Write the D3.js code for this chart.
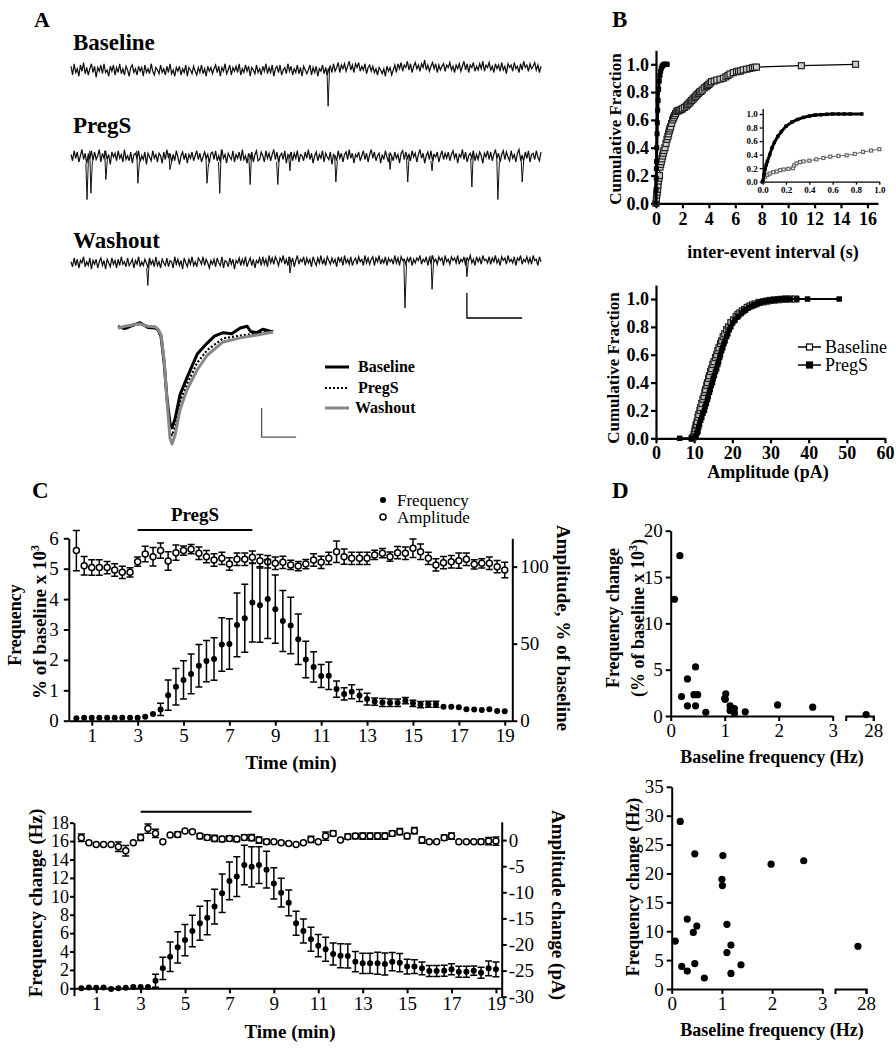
<!DOCTYPE html>
<html><head><meta charset="utf-8">
<script src="https://cdn.jsdelivr.net/npm/d3@7"></script>
<style>body{margin:0;background:#fff} svg{display:block}</style>
</head><body><svg id="c" width="896" height="1050"></svg>
<script>
// ---------------- DATA ----------------
// Panel A: raw traces (pA, estimated), events (s, pA)
const traceLabels = ["Baseline", "PregS", "Washout"];
const baseTrace = [3,-4,5,-2,1,-5,4,-1,6,-3,2,-4,1,5,-2,3,-6,2,-1,4,-3,5,-2,0,-5,3,-1,4,-4,2,
 -2,5,-3,1,-4,3,0,-5,2,4,-2,1,-4,3,-1,2,-5,4,-2,1,-3,5,-1,-4,2,0,-3,4,-2,1,
 -4,3,-2,5,-3,0,-5,2,-1,3,-4,1,-2,4,-5,2,0,-3,3,-1,-4,2,-2,4,-3,1,-5,3,-1,2,
 -3,1,4,-2,3,-5,2,-1,5,-3,0,4,-4,2,-1,3,-2,5,-4,1,-2,4,-1,3,-5,2,0,-3,4,-2,
 1,-4,3,-1,5,-3,2,-2,4,-5,1,3,-2,4,-4,0,2,-3,5,-1,3,-4,1,-2,4,-3,2,-5,3,0,
 -3,0,4,-4,2,-2,3,-5,1,-1,4,-3,2,-4,1,3,-2,5,-1,2,6,-2,4,1,5,-1,3,7,0,4,
 -2,5,2,6,-1,3,0,5,-3,2,4,-1,3,-2,1,-4,2,0,-3,1,-5,3,-1,2,-4,0,4,-2,5,1,
 6,-1,4,2,7,0,5,-2,3,6,1,4,-1,5,2,8,0,4,-1,3,6,1,5,-2,4,0,3,5,-1,4,
 2,6,0,3,-2,4,1,5,-1,3,7,0,5,-2,4,2,6,-1,3,0,5,1,7,-1,4,2,6,0,3,-2,
 5,1,4,-1,6,0,3,-3,5,2,4,-1,6,1,3,-2,5,0,7,2,4,-1,5,1,3,6,0,4,-2,3];
const pregTrace = [2,-3,5,-1,4,-4,1,6,-2,3,-5,2,-1,5,-3,4,-2,1,6,-4,3,-1,5,-2,2,-6,4,0,3,-3,
 5,-1,2,-4,6,-2,1,-3,4,-5,2,3,-1,5,-4,1,-2,4,-6,3,0,-3,5,-1,2,-4,3,1,-5,4,
 -2,6,-1,3,-4,2,-3,5,0,-6,1,4,-2,3,-5,2,-1,4,-3,1,5,-2,3,-4,0,4,-1,2,-5,3,
 4,-2,5,-3,1,-4,6,-1,2,-5,3,0,-2,5,-4,2,-1,4,-3,6,-2,1,-5,3,-1,4,-4,2,5,-3,
 -2,4,1,-4,5,-1,3,-3,2,6,-2,4,-4,1,3,-2,5,-5,2,0,4,-3,3,-1,5,-4,2,1,-3,4,
 -1,6,-2,3,-5,1,4,-3,2,-1,5,-4,3,0,-2,4,-6,2,1,-3,5,-1,3,-4,2,4,-2,6,-1,3,
 -5,2,0,4,-3,1,5,-2,3,-4,2,6,-1,4,-3,1,3,-5,2,-2,5,0,-4,3,1,-3,4,-1,2,-5,
 3,5,-2,4,-1,2,-3,5,0,3,-4,2,6,-1,3,-5,1,4,-2,5,-3,2,0,4,-4,1,5,-2,3,-1,
 4,-3,2,5,-1,3,-5,2,0,6,-2,4,-4,1,3,-1,5,-3,2,-2,4,1,-5,3,0,5,-2,4,-3,2,
 6,-1,3,-4,2,5,-2,4,0,-3,5,-1,2,-4,3,6,-2,1,-3,4,-1,5,-4,2,3,-2,5,0,-3,4];
const washTrace = [1,-3,4,-2,3,-4,2,0,5,-3,1,-2,4,-5,2,-1,3,-4,1,4,-2,2,-5,3,0,-3,4,-1,2,-4,
 3,-2,5,-1,1,-3,4,-2,0,3,-4,2,-1,5,-3,1,-2,3,0,-4,4,-1,2,-3,5,-2,1,-4,3,0,
 -2,4,-3,2,1,-4,5,-1,3,-2,2,-5,4,0,-3,3,-1,5,-2,1,-3,4,2,-1,5,-2,3,0,-4,2,
 -1,3,-3,4,0,-2,5,-4,2,1,-3,4,-1,3,-5,2,0,4,-2,3,-1,5,-3,1,4,-2,3,-4,2,0,
 4,-2,5,-1,3,-3,6,0,4,-1,5,2,-2,4,1,6,-1,3,-2,5,0,4,-3,2,6,-1,3,1,5,-2,
 4,0,3,-3,5,1,-2,4,0,6,-1,3,-2,5,2,-1,4,0,3,-3,5,1,4,-2,6,0,3,-1,5,-2,
 2,4,-1,5,1,3,-2,6,0,4,-1,3,5,-2,4,1,6,-1,3,0,5,-2,4,1,3,-1,6,0,4,-2,
 5,2,3,-1,4,1,5,-2,3,0,4,2,6,-1,3,1,5,-2,4,0,6,1,3,-1,5,2,4,-2,6,1,
 3,-1,5,2,4,0,6,-1,3,1,5,-2,4,2,6,0,3,-2,5,1,4,-1,6,2,3,0,5,-1,4,1,
 6,0,3,-2,5,2,4,-1,6,1,3,0,5,-2,4,2,6,-1,3,1,5,0,4,-1,6,2,3,-2,5,1];
const traceDuration = 8.5; // s
const baseEventT = [4.65];
const baseEventA = [-29];
const pregEventT = [0.29,0.36,0.63,1.21,1.79,2.46,2.69,3.24,3.74,3.96,4.79,5.77,6.09,6.53,7.25,7.72,8.16];
const pregEventA = [-34,-29,-18,-21,-10,-21,-29,-22,-22,-11,-20,-10,-20,-11,-24,-34,-20];
const washEventT = [1.39,3.96,6.04,6.53,7.16];
const washEventA = [-18,-8,-36,-21,-11];
const traceScaleBar = {t: 7.16, dt: 1, a: -24, da: 20};

// Panel A: averaged events (ms, pA)
const avgBaseT = [0,2,4.1,6.4,8.7,10.8,11.6,12.5,13.4,14.2,15.1,15.7,16.6,18,20,23,25.9,28,30.5,33,35.5,37.5,38.5,40.4,42,45];
const avgBaseA = [0.2,-0.1,0.4,0.9,0.1,0,-0.3,-1.5,-6,-12,-16.5,-17.2,-15.6,-11.5,-8.6,-4.5,-2.6,-1.4,-0.8,-1,0,0.3,-0.6,-0.8,-0.2,-0.7];
const avgPregT = [0,2,4.1,6.4,8.7,10.8,11.6,12.5,13.4,14.2,15.1,15.7,16.6,18,20,23,25.9,30.5,35.5,40.4,45];
const avgPregA = [0.3,0,0.5,0.8,0.2,0.1,-0.2,-1.3,-5.8,-12.3,-17.8,-18.5,-17,-12.8,-9.7,-6,-3.8,-1.8,-1.3,-0.9,-0.5];
const avgWashT = [0,2,4.1,6.4,8.7,10.8,11.6,12.5,13.4,14.2,15.1,15.7,16.6,18,20,23,25.9,30.5,35.5,40.4,45];
const avgWashA = [0,0.3,0.5,0.7,0.3,0.2,-0.2,-1.2,-5.5,-12.4,-19,-20,-18.4,-14.1,-10.7,-7.2,-4.7,-2.4,-1.7,-1.2,-0.7];
const avgScaleBar = {t: 41.7, dt: 10, a: -13.8, da: 5};

// Panel B: cumulative distributions
const ieiBaseX = [0,0.03,0.06,0.09,0.12,0.15,0.18,0.22,0.26,0.3,0.35,0.4,0.45,0.5,0.55,0.6,0.68,0.76,0.83,0.9,0.95,1.0,1.05,1.1,1.18,1.26,1.33,1.4,1.48,1.57,1.65,1.72,1.8,1.9,2.0,2.15,2.3,2.4,2.5,2.6,2.7,2.8,2.9,3.0,3.1,3.2,3.3,3.4,3.5,3.65,3.8,3.9,4.0,4.1,4.2,4.4,4.6,4.85,5.1,5.3,5.45,5.6,5.85,6.1,6.25,6.4,6.6,6.85,7.1,7.3,7.45,7.6,11.0,15.1];
const ieiBaseY = [0,0.03,0.06,0.08,0.1,0.13,0.16,0.18,0.2,0.26,0.28,0.3,0.32,0.34,0.36,0.38,0.4,0.43,0.46,0.48,0.5,0.52,0.535,0.55,0.575,0.6,0.615,0.63,0.645,0.66,0.665,0.668,0.67,0.675,0.68,0.69,0.7,0.71,0.72,0.73,0.74,0.75,0.76,0.77,0.78,0.79,0.8,0.805,0.815,0.83,0.84,0.848,0.855,0.865,0.875,0.88,0.887,0.893,0.9,0.91,0.92,0.93,0.94,0.947,0.95,0.952,0.96,0.965,0.97,0.975,0.978,0.98,0.99,1.0];
const ieiPregX = [0,0.01,0.02,0.03,0.04,0.06,0.08,0.1,0.13,0.16,0.2,0.25,0.3,0.35,0.4,0.45,0.5,0.55,0.6,0.65,0.7,0.75,0.85];
const ieiPregY = [0,0.1,0.18,0.25,0.3,0.4,0.5,0.58,0.67,0.74,0.82,0.88,0.92,0.95,0.97,0.985,0.99,0.995,1,1,1,1,1];
const insetBaseX = [0,0.02,0.04,0.06,0.09,0.12,0.15,0.18,0.22,0.26,0.27,0.29,0.32,0.35,0.4,0.46,0.52,0.58,0.65,0.72,0.79,0.86,0.93,1.0];
const insetBaseY = [0,0.07,0.1,0.12,0.14,0.15,0.17,0.18,0.19,0.2,0.24,0.27,0.29,0.3,0.31,0.33,0.35,0.37,0.38,0.39,0.41,0.44,0.46,0.48];
const ampBaseX = [9.5,9.8,10.0,10.2,10.3,10.5,10.6,10.8,11.0,11.2,11.5,11.7,12.0,12.3,12.6,12.8,13.0,13.3,13.5,13.8,14.0,14.3,14.6,14.9,15.2,15.6,15.9,16.2,16.5,16.9,17.2,17.6,18.0,18.5,19.0,19.6,20.3,21.0,21.5,22.0,22.6,23.2,23.9,24.6,25.3,26.0,27,28.1,29,30,31,32,33,34,35,36.5];
const ampBaseY = [0,0.01,0.03,0.05,0.07,0.09,0.1,0.12,0.15,0.17,0.2,0.22,0.25,0.28,0.3,0.33,0.35,0.38,0.4,0.43,0.45,0.48,0.5,0.53,0.55,0.58,0.6,0.63,0.65,0.68,0.7,0.73,0.75,0.78,0.8,0.83,0.85,0.875,0.89,0.9,0.915,0.925,0.94,0.95,0.958,0.965,0.975,0.98,0.985,0.99,0.993,0.995,0.998,1.0,1.0,1.0];
const ampPregX = [6.2,9.3,10.3,10.5,10.8,11.0,11.2,11.4,11.7,12.0,12.3,12.7,12.9,13.2,13.5,13.7,14.0,14.2,14.5,14.8,15.0,15.3,15.6,15.9,16.2,16.4,16.7,16.9,17.2,17.5,17.8,18.1,18.5,18.8,19.2,19.6,20.1,20.7,21.5,22.4,23.0,23.5,24.3,25.1,25.8,26.5,27.1,27.7,28.6,29.5,30.3,31,32,33,34,35,36.9,39.7,48];
const ampPregY = [0,0,0.01,0.02,0.04,0.05,0.08,0.1,0.13,0.15,0.18,0.2,0.23,0.25,0.28,0.3,0.33,0.35,0.38,0.4,0.43,0.45,0.48,0.5,0.53,0.55,0.58,0.6,0.63,0.65,0.68,0.7,0.73,0.75,0.78,0.8,0.83,0.85,0.875,0.9,0.915,0.925,0.94,0.95,0.958,0.965,0.975,0.98,0.985,0.99,0.993,0.995,0.998,1.0,1.0,1.0,1.0,1.0,1.0];
const cdfLegend = ["Baseline", "PregS"];

// Panel C: time course (min)
const timeBins = [0.33,0.67,1,1.33,1.67,2,2.33,2.67,3,3.33,3.67,4,4.33,4.67,5,5.33,5.67,6,6.33,6.67,7,7.33,7.67,8,8.33,8.67,9,9.33,9.67,10,10.33,10.67,11,11.33,11.67,12,12.33,12.67,13,13.33,13.67,14,14.33,14.67,15,15.33,15.67,16,16.33,16.67,17,17.33,17.67,18,18.33,18.67,19];
const timeTicks = [1,3,5,7,9,11,13,15,17,19];
const pregsPeriod = [3, 8];
const freqPct = [0.08,0.1,0.1,0.1,0.1,0.1,0.1,0.1,0.1,0.13,0.22,0.37,0.84,1.12,1.34,1.54,1.81,1.96,2.03,2.51,2.52,3.15,3.37,3.89,3.8,4.0,3.67,3.28,3.13,2.68,2.01,1.77,1.47,1.48,1.04,0.88,0.95,0.83,0.71,0.63,0.6,0.59,0.59,0.66,0.57,0.53,0.54,0.54,0.46,0.46,0.44,0.38,0.37,0.35,0.38,0.32,0.31];
const freqPctErr = [0.02,0.02,0.02,0.02,0.02,0.02,0.02,0.02,0.02,0.02,0.02,0.2,0.5,0.6,0.63,0.65,0.7,0.68,0.7,0.88,0.83,1.05,1.12,1.3,1.22,1.3,1.12,1.0,0.93,0.83,0.6,0.5,0.38,0.45,0.27,0.2,0.23,0.2,0.19,0.12,0.13,0.12,0.12,0.1,0.1,0.1,0.1,0.1,0.08,0.08,0.07,0.04,0.06,0.03,0.03,0.03,0.03];
const ampPct = [110.4,100.6,99.4,99.4,99.4,97.8,96.3,96.3,103.2,108.2,106.5,110.4,103.7,109.1,110.4,111.3,108.7,106.5,104.3,105.4,101.7,104.8,104.8,106.1,103.9,103.2,102.2,102.8,101.1,100.4,101.7,104.3,102.8,105.4,109.7,106.5,105.4,105.4,105.4,107.6,108.7,106.5,109.1,108.7,111.9,109.7,105.4,101.1,102.6,103.2,103.9,104.8,101.5,102.2,102.2,100,97.8];
const ampPctErr = [13,6,5,5,4,4,4,3,3,5,6,5,6,5,3,3,4,4,4,4,4,4,4,4,4,4,4,4,3,3,3,4,4,4,7,5,4,4,4,3,3,3,4,4,6,5,4,4,4,4,5,4,3,3,4,4,5];
const freqHz = [0,0.1,0.07,0.1,-0.07,0,0.07,0.15,0.15,0.15,0.83,2.17,3.44,4.46,5.25,6.23,7.07,7.68,8.88,10.33,11.67,12.14,13.4,13.2,13.4,12.9,11.4,10.4,9.3,7.07,6.23,5.33,4.64,4.24,3.73,3.55,3.51,2.9,2.72,2.72,2.72,2.64,2.9,2.79,2.36,2.36,2.17,1.88,1.88,1.92,2.07,1.81,1.81,1.92,1.7,2.17,2.07];
const freqHzErr = [0.05,0.05,0.05,0.05,0.05,0.05,0.05,0.05,0.05,0.05,0.7,1.2,1.6,1.7,1.7,1.7,1.85,1.85,1.9,2.1,2.05,2.15,2.15,2.2,2.0,2.0,1.7,1.55,1.4,1.3,1.3,1.3,1.2,1.3,1.2,1.3,1.3,1.1,1.1,1.1,1.2,1.2,1.0,1.0,0.8,0.75,0.7,0.6,0.6,0.6,0.6,0.6,0.6,0.5,0.6,0.8,0.8];
const ampPA = [0.45,-0.5,-0.83,-0.83,-0.83,-1.28,-2.04,-0.5,0.5,2.2,1.28,-0.32,0.96,1.08,1.72,1.6,0.77,0.5,0.32,0.19,0.32,0.19,0.5,0.45,0,-0.32,-0.32,-0.5,-0.64,-0.83,-0.5,0.13,-0.32,0.77,1.28,0,0.64,0.77,0.77,0.77,0.77,0.77,1.28,1.6,0.77,1.79,0,-0.32,-0.32,0.45,0.77,-0.32,-0.32,-0.32,-0.32,-0.19,-0.19];
const ampPAErr = [0.7,0.4,0.4,0.4,0.4,0.9,1.0,0.4,0.6,0.9,0.8,0.4,0.4,0.5,0.4,0.4,0.5,0.5,0.6,0.5,0.5,0.5,0.5,0.6,0.6,0.5,0.4,0.4,0.4,0.3,0.4,0.6,0.4,0.8,0.5,0.4,0.5,0.5,0.6,0.6,0.6,0.6,0.5,0.6,0.5,0.6,0.6,0.4,0.4,0.5,0.6,0.3,0.3,0.4,0.5,0.7,0.8];
const tcLegend = ["Frequency", "Amplitude"];

// Panel D: per-cell scatter
const cellBaseHz = [0.07,0.17,0.2,0.31,0.31,0.43,0.46,0.46,0.5,0.65,1.0,1.01,1.02,1.1,1.1,1.18,1.18,1.38,1.98,2.63,27.87];
const cellChangePct = [12.6,17.3,2.1,1.1,4.0,2.3,5.3,1.1,2.3,0.4,1.9,1.8,2.4,1.1,0.6,0.8,0.3,0.45,1.2,0.95,0.15];
const cellChangeHz = [8.3,29.0,3.9,3.1,12.1,9.8,23.4,4.4,10.9,1.9,19.0,17.9,23.1,11.2,6.3,7.6,2.7,4.2,21.6,22.2,7.4];

// ---------------- DRAWING ----------------
const FONT = '"Liberation Serif","Times New Roman",Times,serif';
const svg = d3.select("#c");

function txt(x, y, s, o = {}) {
  const t = svg.append("text").attr("x", x).attr("y", y)
    .attr("font-family", FONT).attr("font-size", o.size || 18)
    .attr("font-weight", o.bold ? "bold" : "normal")
    .attr("text-anchor", o.anchor || "start").attr("fill", "#000");
  if (s !== null) t.text(s);
  if (o.rotate) t.attr("transform", `rotate(${o.rotate},${x},${y})`);
  return t;
}
function drawAxis(axis, tx, ty, fs, bold, sw) {
  const g = svg.append("g").attr("transform", `translate(${tx},${ty})`).call(axis);
  g.attr("font-family", FONT).attr("font-size", fs).attr("font-weight", bold ? "bold" : "normal");
  g.select(".domain").attr("stroke", "#000").attr("stroke-width", sw || 2);
  g.selectAll(".tick line").attr("stroke", "#000").attr("stroke-width", sw || 2);
  g.selectAll(".tick text").attr("fill", "#000");
  return g;
}
function errBars(xs, ys, es, x, y, cap) {
  const g = svg.append("g");
  xs.forEach((t, i) => {
    const y1 = y(ys[i] - es[i]), y2 = y(ys[i] + es[i]);
    if (Math.abs(y1 - y2) < 5) return;
    const cx = x(t);
    g.append("path").attr("d", `M${cx},${y1}V${y2}M${cx - cap},${y1}H${cx + cap}M${cx - cap},${y2}H${cx + cap}`)
      .attr("stroke", "#000").attr("stroke-width", 1.5).attr("fill", "none");
  });
}
function dots(xs, ys, x, y, r, open) {
  svg.append("g").selectAll("circle").data(xs).join("circle")
    .attr("cx", d => x(d)).attr("cy", (d, i) => y(ys[i])).attr("r", r)
    .attr("fill", open ? "#fff" : "#000").attr("stroke", "#000").attr("stroke-width", open ? 1.5 : 0);
}
function squares(xs, ys, x, y, s, open, color, fillOpen) {
  const c = color || "#000";
  svg.append("g").selectAll("rect").data(xs).join("rect")
    .attr("x", d => x(d) - s / 2).attr("y", (d, i) => y(ys[i]) - s / 2).attr("width", s).attr("height", s)
    .attr("fill", open ? (fillOpen || "#fff") : c).attr("stroke", c).attr("stroke-width", open ? 1.2 : 0);
}
function polyline(xs, ys, x, y, w, color, dash) {
  const p = svg.append("path")
    .attr("d", d3.line().x(d => x(d)).y((d, i) => y(ys[i]))(xs))
    .attr("fill", "none").attr("stroke", color || "#000").attr("stroke-width", w)
    .attr("stroke-linejoin", "round");
  if (dash) p.attr("stroke-dasharray", dash);
  return p;
}

// ---------- Panel letters ----------
txt(34, 27, "A", {size: 22, bold: true});
txt(612, 27, "B", {size: 23, bold: true});
txt(32, 498, "C", {size: 23, bold: true});
txt(612, 498, "D", {size: 23, bold: true});

// ---------- Panel A traces ----------
const xT = d3.scaleLinear().domain([0, traceDuration]).range([71, 541]);
const traceCenters = [70, 157, 263];
const labelY = [50, 133, 248];
const traces = [baseTrace, pregTrace, washTrace];
const evT = [baseEventT, pregEventT, washEventT];
const evA = [baseEventA, pregEventA, washEventA];
const yTraces = traceCenters.map(c => d3.scaleLinear().domain([-40, 10]).range([c + 50, c - 12.5]));
traces.forEach((arr, k) => {
  const yk = yTraces[k];
  const n = arr.length;
  const tOf = i => i * traceDuration / (n - 1);
  txt(73, labelY[k], traceLabels[k], {size: 23, bold: true});
  svg.append("path").attr("d", d3.line().x((d, i) => xT(tOf(i))).y(d => yk(d))(arr))
    .attr("fill", "none").attr("stroke", "#111").attr("stroke-width", 1.25);
  evT[k].forEach((t, j) => {
    const i = Math.round(t / traceDuration * (n - 1));
    const cx = xT(t);
    svg.append("path").attr("d", `M${cx - 1.2},${yk(arr[i])}L${cx},${yk(evA[k][j])}L${cx + 1.5},${yk(arr[Math.min(i + 1, n - 1)])}`)
      .attr("fill", "none").attr("stroke", "#111").attr("stroke-width", 1);
  });
});
{
  const yk = yTraces[2], sb = traceScaleBar;
  svg.append("path").attr("d", `M${xT(sb.t)},${yk(sb.a)}V${yk(sb.a - sb.da)}H${xT(sb.t + sb.dt)}`)
    .attr("fill", "none").attr("stroke", "#000").attr("stroke-width", 1.3);
}

// ---------- Panel A averaged events ----------
const xA = d3.scaleLinear().domain([0, 45]).range([118, 273]);
const yA = d3.scaleLinear().domain([-20, 0]).range([444, 328]);
polyline(avgBaseT, avgBaseA, xA, yA, 3, "#000");
polyline(avgPregT, avgPregA, xA, yA, 2.2, "#000", "2,2");
polyline(avgWashT, avgWashA, xA, yA, 3, "#888");
svg.append("path").attr("d", `M${xA(avgScaleBar.t)},${yA(avgScaleBar.a)}V${yA(avgScaleBar.a - avgScaleBar.da)}H${xA(avgScaleBar.t + avgScaleBar.dt)}`)
  .attr("fill", "none").attr("stroke", "#555").attr("stroke-width", 1.3);
const legY = [367, 388, 408];
const legStyle = [{c: "#000", w: 3, d: null}, {c: "#000", w: 2.2, d: "2,2"}, {c: "#888", w: 3, d: null}];
traceLabels.forEach((l, i) => {
  const p = svg.append("path").attr("d", `M325,${legY[i]}H349`).attr("stroke", legStyle[i].c).attr("stroke-width", legStyle[i].w);
  if (legStyle[i].d) p.attr("stroke-dasharray", legStyle[i].d);
  txt(i === 2 ? 355 : 358, legY[i] + 5, l, {size: 16, bold: true});
});

// ---------- Panel B top ----------
const xB1 = d3.scaleLinear().domain([0, 16.8]).range([656, 878]);
const yB1 = d3.scaleLinear().domain([0, 1.1]).range([203.3, 50.4]);
drawAxis(d3.axisBottom(xB1).tickValues(d3.range(0, 17, 2)).tickFormat(d3.format("d")).tickSize(5).tickSizeOuter(0).tickPadding(4), 0, yB1(0), 18, true, 2.2);
drawAxis(d3.axisLeft(yB1).tickValues([0, 0.2, 0.4, 0.6, 0.8, 1.0]).tickFormat(d3.format(".1f")).tickSize(5).tickSizeOuter(0).tickPadding(2), xB1(0), 0, 18, true, 2.2);
polyline(ieiBaseX, ieiBaseY, xB1, yB1, 1.2, "#000");
squares(ieiBaseX, ieiBaseY, xB1, yB1, 6, true, "#222", "#ccc");
polyline(ieiPregX, ieiPregY, xB1, yB1, 3, "#000");
squares(ieiPregX, ieiPregY, xB1, yB1, 5, false, "#000");
txt(621, 129, "Cumulative Fraction", {size: 17, bold: true, anchor: "middle", rotate: -90});
txt(773, 258, "inter-event interval (s)", {size: 18, bold: true, anchor: "middle"});
// inset
const xIn = d3.scaleLinear().domain([0, 1]).range([762.7, 879.3]);
const yIn = d3.scaleLinear().domain([0, 1.08]).range([181.7, 108.6]);
drawAxis(d3.axisBottom(xIn).tickValues([0, 0.2, 0.4, 0.6, 0.8, 1.0]).tickFormat(d3.format(".1f")).tickSize(3).tickSizeOuter(0).tickPadding(2), 0, yIn(0), 9, true, 1.3);
drawAxis(d3.axisLeft(yIn).tickValues([0, 0.2, 0.4, 0.6, 0.8, 1.0]).tickFormat(d3.format(".1f")).tickSize(3).tickSizeOuter(0).tickPadding(2), xIn(0), 0, 9, true, 1.3);
polyline(insetBaseX, insetBaseY, xIn, yIn, 1, "#666");
squares(insetBaseX, insetBaseY, xIn, yIn, 3, true, "#666");
polyline(ieiPregX, ieiPregY, xIn, yIn, 3, "#000");
squares(ieiPregX, ieiPregY, xIn, yIn, 3.5, false, "#000");

// ---------- Panel B bottom ----------
const xB2 = d3.scaleLinear().domain([0, 60]).range([656, 885]);
const yB2 = d3.scaleLinear().domain([0, 1.1]).range([438.3, 285.1]);
drawAxis(d3.axisBottom(xB2).tickValues(d3.range(0, 61, 10)).tickFormat(d3.format("d")).tickSize(5).tickSizeOuter(0).tickPadding(3), 0, yB2(0), 18, true, 2.2);
drawAxis(d3.axisLeft(yB2).tickValues([0, 0.2, 0.4, 0.6, 0.8, 1.0]).tickFormat(d3.format(".1f")).tickSize(5).tickSizeOuter(0).tickPadding(2), xB2(0), 0, 18, true, 2.2);
polyline(ampBaseX, ampBaseY, xB2, yB2, 1.5, "#000");
squares(ampBaseX, ampBaseY, xB2, yB2, 6, true, "#222", "#bbb");
polyline(ampPregX, ampPregY, xB2, yB2, 2, "#000");
squares(ampPregX, ampPregY, xB2, yB2, 5.5, false, "#000");
txt(619, 368, "Cumulative Fraction", {size: 17, bold: true, anchor: "middle", rotate: -90});
txt(768, 478, "Amplitude (pA)", {size: 18, bold: true, anchor: "middle"});
[347, 365].forEach((yy, i) => {
  svg.append("path").attr("d", `M798,${yy}H821`).attr("stroke", "#000").attr("stroke-width", 1.5);
  svg.append("rect").attr("x", 806.5).attr("y", yy - 3).attr("width", 6).attr("height", 6)
    .attr("fill", i === 0 ? "#fff" : "#000").attr("stroke", "#000").attr("stroke-width", 1.2);
  txt(825, yy + 6, cdfLegend[i], {size: 18});
});

// ---------- Panel C top ----------
const xC1 = d3.scaleLinear().domain([0, 19.33]).range([68.8, 512.3]);
const yC1 = d3.scaleLinear().domain([0, 6]).range([720.7, 538.3]);
const yC1r = d3.scaleLinear().domain([0, 118.4]).range([720.7, 538.3]);
drawAxis(d3.axisBottom(xC1).tickValues(timeTicks).tickFormat(d3.format("d")).tickSize(5).tickSizeOuter(0).tickPadding(3), 0, yC1(0), 19, false);
drawAxis(d3.axisLeft(yC1).tickValues(d3.range(0, 7)).tickFormat(d3.format("d")).tickSize(5).tickSizeOuter(0).tickPadding(5), xC1(0), 0, 19, false);
drawAxis(d3.axisRight(yC1r).tickValues([0, 50, 100]).tickFormat(d3.format("d")).tickSize(5).tickSizeOuter(0).tickPadding(3), xC1(19.33), 0, 19, false);
errBars(timeBins, ampPct, ampPctErr, xC1, yC1r, 3.5);
dots(timeBins, ampPct, xC1, yC1r, 3, true);
errBars(timeBins, freqPct, freqPctErr, xC1, yC1, 3.5);
dots(timeBins, freqPct, xC1, yC1, 3, false);
svg.append("path").attr("d", `M${xC1(pregsPeriod[0])},530H${xC1(pregsPeriod[1])}`).attr("stroke", "#000").attr("stroke-width", 2);
txt(xC1((pregsPeriod[0] + pregsPeriod[1]) / 2), 521, "PregS", {size: 19, bold: true, anchor: "middle"});
svg.append("circle").attr("cx", 383).attr("cy", 500).attr("r", 3).attr("fill", "#000");
svg.append("circle").attr("cx", 383).attr("cy", 517).attr("r", 3).attr("fill", "#fff").attr("stroke", "#000").attr("stroke-width", 1.5);
txt(397, 506, tcLegend[0], {size: 17});
txt(397, 523, tcLegend[1], {size: 17});
txt(21, 625, "Frequency", {size: 18, bold: true, anchor: "middle", rotate: -90});
{
  const t = txt(46, 622, null, {size: 19, bold: true, anchor: "middle", rotate: -90});
  t.append("tspan").text("% of baseline x 10");
  t.append("tspan").attr("font-size", 12).attr("dy", -7).text("3");
}
txt(291, 769, "Time (min)", {size: 19, bold: true, anchor: "middle"});
txt(557, 628, "Amplitude, % of baseline", {size: 19, bold: true, anchor: "middle", rotate: 90});

// ---------- Panel C bottom ----------
const xC2 = d3.scaleLinear().domain([0, 19.26]).range([74, 501.7]);
const yC2 = d3.scaleLinear().domain([-0.8, 18]).range([995.7, 822.7]);
const yC2r = d3.scaleLinear().domain([-30, 3.5]).range([996.7, 821.8]);
drawAxis(d3.axisBottom(xC2).tickValues(timeTicks).tickFormat(d3.format("d")).tickSize(5).tickSizeOuter(0).tickPadding(3), 0, yC2(0), 19, false);
drawAxis(d3.axisLeft(yC2).tickValues(d3.range(0, 19, 2)).tickFormat(d3.format("d")).tickSize(4).tickSizeOuter(0).tickPadding(1), xC2(0), 0, 18, false);
drawAxis(d3.axisRight(yC2r).tickValues([0, -5, -10, -15, -20, -25, -30]).tickFormat(d => String(d)).tickSize(5).tickSizeOuter(0).tickPadding(2), xC2(19.26), 0, 19, false);
errBars(timeBins, ampPA, ampPAErr, xC2, yC2r, 3.5);
dots(timeBins, ampPA, xC2, yC2r, 3, true);
errBars(timeBins, freqHz, freqHzErr, xC2, yC2, 3.5);
dots(timeBins, freqHz, xC2, yC2, 3, false);
svg.append("path").attr("d", `M${xC2(pregsPeriod[0])},811.7H${xC2(pregsPeriod[1])}`).attr("stroke", "#000").attr("stroke-width", 2);
txt(42, 903, "Frequency change (Hz)", {size: 19, bold: true, anchor: "middle", rotate: -90});
txt(290, 1038, "Time (min)", {size: 19, bold: true, anchor: "middle"});
txt(552, 905, "Amplitude change (pA)", {size: 19, bold: true, anchor: "middle", rotate: 90});

// ---------- Panel D ----------
function brokenScatter(xa, xb, y, yTicks, ys, yTitleLines, yTitleX, yTitleY, xTitleY) {
  drawAxis(d3.axisBottom(xa).tickValues([0, 1, 2, 3]).tickFormat(d3.format("d")).tickSize(5).tickSizeOuter(0).tickPadding(3), 0, y(0), 19, false);
  drawAxis(d3.axisBottom(xb).tickValues([28]).tickFormat(d3.format("d")).tickSize(5).tickSizeOuter(5).tickPadding(3), 0, y(0), 19, false);
  drawAxis(d3.axisLeft(y).tickValues(yTicks).tickFormat(d3.format("d")).tickSize(5).tickSizeOuter(0).tickPadding(3), xa(0), 0, 19, false);
  svg.append("g").selectAll("circle").data(cellBaseHz).join("circle")
    .attr("cx", d => d > 3 ? xb(d) : xa(d)).attr("cy", (d, i) => y(ys[i])).attr("r", 3.6).attr("fill", "#000");
  yTitleLines.forEach((l, i) => {
    if (l.sup) {
      const t = txt(yTitleX[i], yTitleY, null, {size: 18, bold: true, anchor: "middle", rotate: -90});
      t.append("tspan").text(l.text);
      t.append("tspan").attr("font-size", 12).attr("dy", -7).text(l.sup);
      t.append("tspan").attr("dy", 7).text(l.after);
    } else {
      txt(yTitleX[i], yTitleY, l.text, {size: 18, bold: true, anchor: "middle", rotate: -90});
    }
  });
  txt(772, xTitleY, "Baseline frequency (Hz)", {size: 18, bold: true, anchor: "middle"});
}
const xD1 = d3.scaleLinear().domain([0, 3]).range([670.7, 832.7]);
const xD1b = d3.scaleLinear().domain([27.5, 28]).range([845.7, 873.3]);
const yD1 = d3.scaleLinear().domain([0, 20]).range([716, 530.7]);
brokenScatter(xD1, xD1b, yD1, [0, 5, 10, 15, 20], cellChangePct,
  [{text: "Frequency change"}, {text: "(% of baseline x 10", sup: "3", after: ")"}], [619, 644], 618, 763);
const xD2 = d3.scaleLinear().domain([0, 3]).range([671.7, 822.3]);
const xD2b = d3.scaleLinear().domain([27.5, 28]).range([835, 866]);
const yD2 = d3.scaleLinear().domain([0, 35]).range([989, 786.8]);
brokenScatter(xD2, xD2b, yD2, [0, 5, 10, 15, 20, 25, 30, 35], cellChangeHz,
  [{text: "Frequency change (Hz)"}], [639], 887, 1036);
</script>
</body></html>
